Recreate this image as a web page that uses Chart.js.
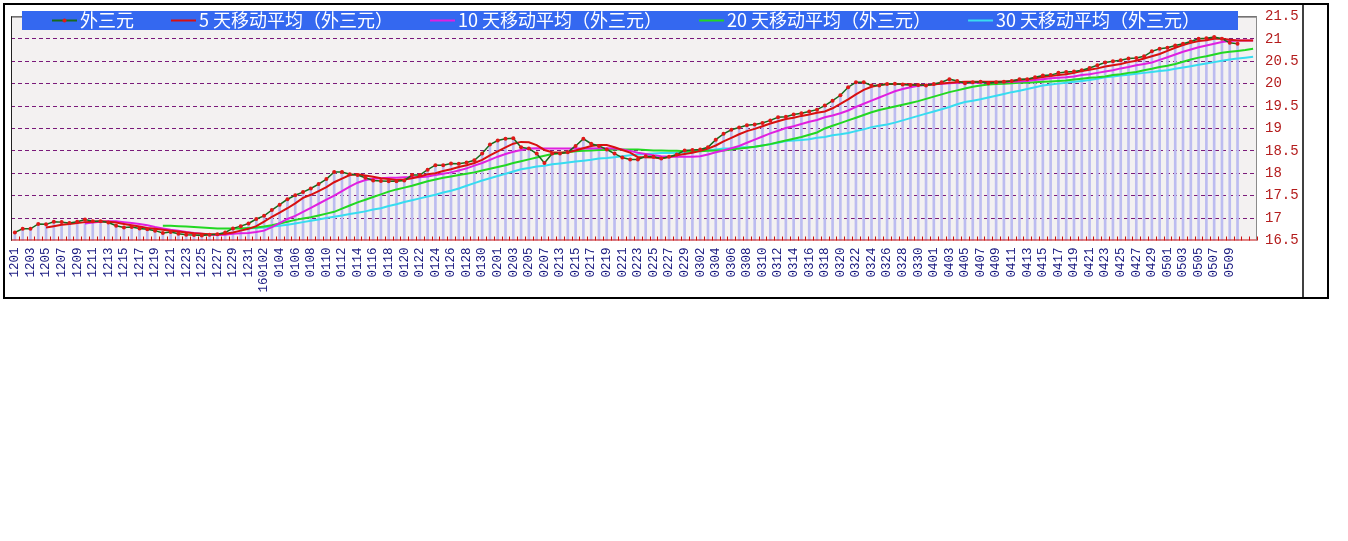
<!DOCTYPE html>
<html><head><meta charset="utf-8">
<script src="https://cdn.jsdelivr.net/npm/chart.js@4.4.0/dist/chart.umd.min.js"></script>
<style>html,body{margin:0;padding:0;background:#fff;}canvas{display:block;}</style>
</head><body>
<canvas id="c" width="1348" height="541"></canvas>
<script>
const dates = [
'1201','1202','1203','1204','1205','1206','1207','1208','1209','1210','1211','1212','1213','1214','1215','1216','1217','1218','1219','1220','1221','1222','1223','1224','1225','1226','1227','1228','1229','1230','1231',
'0101','160102','0103','0104','0105','0106','0107','0108','0109','0110','0111','0112','0113','0114','0115','0116','0117','0118','0119','0120','0121','0122','0123','0124','0125','0126','0127','0128','0129','0130','0131',
'0201','0202','0203','0204','0205','0206','0207','0212','0213','0214','0215','0216','0217','0218','0219','0220','0221','0222','0223','0224','0225','0226','0227','0228','0229',
'0301','0302','0303','0304','0305','0306','0307','0308','0309','0310','0311','0312','0313','0314','0315','0316','0317','0318','0319','0320','0321','0322','0323','0324','0325','0326','0327','0328','0329','0330','0331',
'0401','0402','0403','0404','0405','0406','0407','0408','0409','0410','0411','0412','0413','0414','0415','0416','0417','0418','0419','0420','0421','0422','0423','0424','0425','0426','0427','0428','0429','0430',
'0501','0502','0503','0504','0505','0506','0507','0508','0509','0510','0511','0512'
];
const seriesNames = ['外三元','5 天移动平均（外三元）','10 天移动平均（外三元）','20 天移动平均（外三元）','30 天移动平均（外三元）'];
const yTicks = [16.5,17,17.5,18,18.5,19,19.5,20,20.5,21,21.5];

const price = [
16.68,16.76,16.76,16.87,16.86,16.92,16.91,16.89,16.92,16.97,
16.93,16.93,16.90,16.83,16.79,16.80,16.77,16.75,16.72,16.67,
16.69,16.65,16.63,16.62,16.61,16.63,16.64,16.68,16.77,16.82,
16.88,16.98,17.05,17.18,17.30,17.42,17.51,17.58,17.66,17.76,
17.87,18.03,18.03,17.98,17.96,17.90,17.84,17.83,17.82,17.82,
17.84,17.96,17.96,18.08,18.18,18.18,18.22,18.21,18.24,18.29,
18.44,18.64,18.73,18.77,18.78,18.58,18.55,18.44,18.23,18.44,
18.44,18.47,18.61,18.77,18.66,18.61,18.53,18.44,18.35,18.31,
18.31,18.38,18.37,18.33,18.37,18.42,18.51,18.52,18.53,18.58,
18.75,18.88,18.97,19.02,19.07,19.09,19.12,19.18,19.25,19.26,
19.31,19.34,19.38,19.42,19.51,19.62,19.74,19.92,20.03,20.03,
19.96,19.96,19.99,20.00,19.98,19.97,19.97,19.96,19.99,20.03,
20.10,20.06,20.01,20.03,20.04,20.01,20.03,20.04,20.06,20.10,
20.10,20.14,20.18,20.19,20.24,20.26,20.27,20.30,20.35,20.41,
20.47,20.50,20.52,20.56,20.57,20.61,20.72,20.78,20.80,20.85,
20.89,20.94,21.00,21.01,21.04,21.00,20.91,20.89,null,null
];
const ma5 = [null,null,null,null,
16.79,16.82,16.85,16.87,16.89,16.91,16.92,16.93,16.92,16.90,
16.87,16.84,16.81,16.78,16.76,16.74,16.72,16.70,16.68,16.66,
16.65,16.64,16.64,16.65,16.68,16.72,16.76,16.82,16.92,17.03,
17.12,17.22,17.33,17.45,17.52,17.60,17.69,17.80,17.88,17.96,
17.98,17.95,17.92,17.89,17.87,17.85,17.86,17.89,17.93,17.98,
18.00,18.05,18.09,18.14,18.18,18.23,18.30,18.40,18.49,18.58,
18.66,18.70,18.69,18.63,18.52,18.47,18.46,18.47,18.51,18.56,
18.61,18.63,18.63,18.58,18.52,18.46,18.36,18.36,18.35,18.33,
18.36,18.40,18.43,18.46,18.50,18.55,18.62,18.71,18.79,18.87,
18.94,18.99,19.05,19.11,19.16,19.21,19.24,19.28,19.31,19.35,
19.38,19.45,19.55,19.65,19.76,19.86,19.93,19.97,19.99,19.99,
19.99,19.98,19.97,19.97,19.98,20.00,20.02,20.03,20.04,20.04,
20.04,20.04,20.04,20.05,20.06,20.08,20.10,20.12,20.15,20.17,
20.19,20.21,20.24,20.28,20.31,20.34,20.38,20.41,20.44,20.48,
20.51,20.56,20.61,20.66,20.73,20.80,20.86,20.91,20.95,20.97,
21.00,21.00,20.98,20.96,20.96,20.96];
const ma10 = [null,null,null,null,null,null,null,null,null,
16.88,16.90,16.92,16.93,16.93,16.91,16.89,16.87,16.84,16.80,
16.77,16.74,16.72,16.69,16.67,16.65,16.63,16.62,16.63,16.65,
16.66,16.67,16.69,16.72,16.80,16.89,16.98,17.05,17.14,17.23,
17.32,17.41,17.50,17.60,17.70,17.79,17.85,17.88,17.89,17.90,
17.90,17.91,17.91,17.91,17.93,17.96,17.99,18.02,18.06,18.11,
18.17,18.23,18.30,18.37,18.43,18.48,18.52,18.55,18.56,18.55,
18.55,18.55,18.55,18.55,18.55,18.55,18.56,18.56,18.55,18.53,
18.50,18.46,18.43,18.40,18.38,18.37,18.37,18.37,18.37,18.38,
18.42,18.47,18.51,18.56,18.61,18.68,18.75,18.82,18.89,18.95,
19.01,19.05,19.10,19.15,19.19,19.25,19.29,19.34,19.40,19.48,
19.55,19.62,19.69,19.76,19.83,19.88,19.92,19.95,19.97,19.99,
20.00,20.01,20.02,20.02,20.02,20.02,20.03,20.03,20.03,20.04,
20.05,20.06,20.08,20.10,20.12,20.13,20.14,20.16,20.19,20.21,
20.24,20.27,20.30,20.34,20.37,20.41,20.44,20.47,20.53,20.59,
20.65,20.71,20.76,20.81,20.85,20.89,20.93,20.95,20.96,20.96,20.96];
const ma20 = [null,null,null,null,null,null,null,null,null,null,
null,null,null,null,null,null,null,null,null,
16.83,16.83,16.82,16.81,16.80,16.79,16.78,16.77,16.77,16.77,
16.77,16.78,16.79,16.81,16.84,16.88,16.92,16.96,16.99,17.02,
17.06,17.10,17.14,17.21,17.28,17.35,17.41,17.47,17.53,17.59,
17.64,17.68,17.72,17.77,17.82,17.86,17.90,17.93,17.96,17.99,
18.02,18.06,18.10,18.14,18.18,18.23,18.27,18.31,18.35,18.39,
18.43,18.45,18.47,18.49,18.50,18.51,18.52,18.52,18.53,18.53,
18.53,18.53,18.52,18.51,18.51,18.50,18.50,18.49,18.49,18.49,
18.50,18.51,18.51,18.53,18.55,18.57,18.59,18.62,18.65,18.69,
18.73,18.77,18.81,18.86,18.91,19.00,19.06,19.12,19.18,19.24,
19.30,19.36,19.41,19.45,19.49,19.53,19.57,19.61,19.66,19.71,
19.76,19.81,19.85,19.89,19.93,19.96,19.98,19.99,20.00,20.01,
20.02,20.02,20.03,20.04,20.05,20.06,20.07,20.09,20.11,20.13,
20.14,20.16,20.19,20.21,20.24,20.26,20.30,20.33,20.37,20.40,
20.44,20.49,20.54,20.58,20.61,20.65,20.69,20.71,20.73,20.75,20.78];
const ma30 = [null,null,null,null,null,null,null,null,null,null,
null,null,null,null,null,null,null,null,null,null,
null,null,null,null,null,null,null,null,null,
16.76,16.77,16.78,16.79,16.81,16.83,16.85,16.88,16.91,16.94,
16.97,17.00,17.03,17.06,17.09,17.12,17.15,17.19,17.22,17.27,
17.31,17.36,17.40,17.44,17.48,17.52,17.57,17.61,17.66,17.72,
17.78,17.84,17.89,17.94,17.99,18.04,18.09,18.12,18.15,18.17,
18.20,18.22,18.24,18.26,18.28,18.30,18.33,18.34,18.36,18.38,
18.40,18.42,18.43,18.44,18.45,18.45,18.46,18.47,18.49,18.50,
18.52,18.53,18.55,18.56,18.58,18.58,18.59,18.62,18.65,18.68,
18.72,18.73,18.74,18.76,18.79,18.81,18.85,18.87,18.90,18.94,
18.98,19.03,19.06,19.09,19.13,19.18,19.23,19.28,19.33,19.38,
19.43,19.48,19.54,19.59,19.62,19.65,19.69,19.73,19.77,19.81,
19.84,19.88,19.92,19.96,19.98,20.00,20.02,20.04,20.06,20.08,
20.11,20.14,20.16,20.18,20.20,20.22,20.24,20.26,20.28,20.30,
20.33,20.36,20.39,20.42,20.45,20.48,20.51,20.54,20.56,20.58,20.60];

const COL = {
  price:'#186a1c', dot:'#e01818', ma5:'#d81010', ma10:'#e020e0', ma20:'#22d822', ma30:'#38dcf0',
  bar:'#bcbcf0', band:'#3468f0', grid:'#7a1a7a', xtick:'#1a1a80', ytick:'#b41c1c', axis:'#cc1010'
};

const decor = {
  id:'decor',
  beforeDraw(chart){
    const {ctx, chartArea:a} = chart;
    ctx.save();
    ctx.fillStyle = '#ffffff';
    ctx.fillRect(0,0,chart.width,chart.height);
    ctx.fillStyle = '#f3f1f1';
    ctx.fillRect(a.left, a.top, a.right-a.left, a.bottom-a.top);
    ctx.restore();
  },
  afterDraw(chart){
    const {ctx, chartArea:a} = chart;
    const xs = chart.scales.x;
    ctx.save();
    const step = xs.getPixelForValue(1) - xs.getPixelForValue(0);
    ctx.strokeStyle = COL.axis; ctx.lineWidth = 1;
    ctx.beginPath();
    for (let i = 0; i <= dates.length; i++) {
      const x = Math.round(xs.getPixelForValue(i) - step/2) + 0.5;
      ctx.moveTo(x, a.bottom); ctx.lineTo(x, a.bottom - 4);
    }
    ctx.stroke();
    ctx.beginPath(); ctx.moveTo(a.left, a.bottom - 0.5); ctx.lineTo(a.right, a.bottom - 0.5); ctx.stroke();
    ctx.lineWidth = 1;
    ctx.strokeStyle = '#222';
    ctx.beginPath(); ctx.moveTo(a.left + 0.5, a.top); ctx.lineTo(a.left + 0.5, a.bottom); ctx.stroke();
    ctx.beginPath(); ctx.moveTo(a.left, a.top + 0.5); ctx.lineTo(a.right, a.top + 0.5); ctx.stroke();
    ctx.strokeStyle = '#8a8a8a';
    ctx.beginPath(); ctx.moveTo(a.right - 0.5, a.top); ctx.lineTo(a.right - 0.5, a.bottom); ctx.stroke();
    ctx.strokeStyle = '#000'; ctx.lineWidth = 2;
    ctx.strokeRect(4, 4, 1324, 294);
    ctx.lineWidth = 1.5;
    ctx.beginPath(); ctx.moveTo(1303, 4); ctx.lineTo(1303, 298); ctx.stroke();
    ctx.fillStyle = COL.band;
    ctx.fillRect(22, 11, 1216, 19);
    ctx.font = '18px "Noto Sans CJK SC", sans-serif';
    ctx.textBaseline = 'middle';
    let x = 52;
    const cy = 20.5;
    chart.data.datasets.filter(d => d.type === 'line').forEach(d => {
      ctx.strokeStyle = d.borderColor; ctx.lineWidth = 2;
      ctx.beginPath(); ctx.moveTo(x, cy); ctx.lineTo(x + 25, cy); ctx.stroke();
      if (d.pointRadius > 0) {
        ctx.fillStyle = COL.dot;
        ctx.beginPath(); ctx.arc(x + 12.5, cy, 2, 0, Math.PI*2); ctx.fill();
      }
      ctx.fillStyle = '#ffffff';
      ctx.fillText(d.label, x + 28, cy);
      x += 28 + ctx.measureText(d.label).width + 37;
    });
    ctx.restore();
  }
};

new Chart(document.getElementById('c'), {
  type: 'bar',
  data: {
    labels: dates,
    datasets: [
      {type:'line', label:seriesNames[0], data:price, borderColor:COL.price, borderWidth:1.5,
       pointRadius:2, pointBackgroundColor:COL.dot, pointBorderColor:COL.dot, pointBorderWidth:0, tension:0, order:1},
      {type:'line', label:seriesNames[1], data:ma5, borderColor:COL.ma5, borderWidth:2, pointRadius:0, tension:0, order:2},
      {type:'line', label:seriesNames[2], data:ma10, borderColor:COL.ma10, borderWidth:2, pointRadius:0, tension:0, order:3},
      {type:'line', label:seriesNames[3], data:ma20, borderColor:COL.ma20, borderWidth:2, pointRadius:0, tension:0, order:4},
      {type:'line', label:seriesNames[4], data:ma30, borderColor:COL.ma30, borderWidth:2, pointRadius:0, tension:0, order:5},
      {type:'bar', label:'bars', data:price, backgroundColor:COL.bar, barThickness:2, order:10}
    ]
  },
  options: {
    responsive:false, animation:false, devicePixelRatio:1, events:[],
    layout:{padding:{left:11, top:15, right:45, bottom:242.5}},
    plugins:{legend:{display:false}, tooltip:{enabled:false}},
    scales:{
      x:{
        offset:true,
        grid:{display:false, drawTicks:false},
        border:{display:false},
        afterFit(s){ s.height = 58; },
        ticks:{
          autoSkip:false, minRotation:90, maxRotation:90, padding:7,
          color:COL.xtick, font:{family:'"Liberation Mono", monospace', size:12.5},
          callback(v, i){ return (i % 2 === 0 && price[i] !== null) ? dates[i] : ''; }
        }
      },
      y:{
        position:'right', min:16.5, max:21.5,
        afterFit(s){ s.width = 46; },
        afterBuildTicks(s){ s.ticks = yTicks.map(v => ({value:v})); },
        grid:{drawTicks:false, lineWidth:1,
          color(c){ return (c.tick && (c.tick.value === 16.5 || c.tick.value === 21.5)) ? 'rgba(0,0,0,0)' : COL.grid; }},
        border:{display:false, dash:[4,3]},
        ticks:{padding:8, color:COL.ytick, font:{family:'"Liberation Mono", monospace', size:14},
          callback(v){ return String(v); }}
      }
    }
  },
  plugins:[decor]
});
</script>
</body></html>
